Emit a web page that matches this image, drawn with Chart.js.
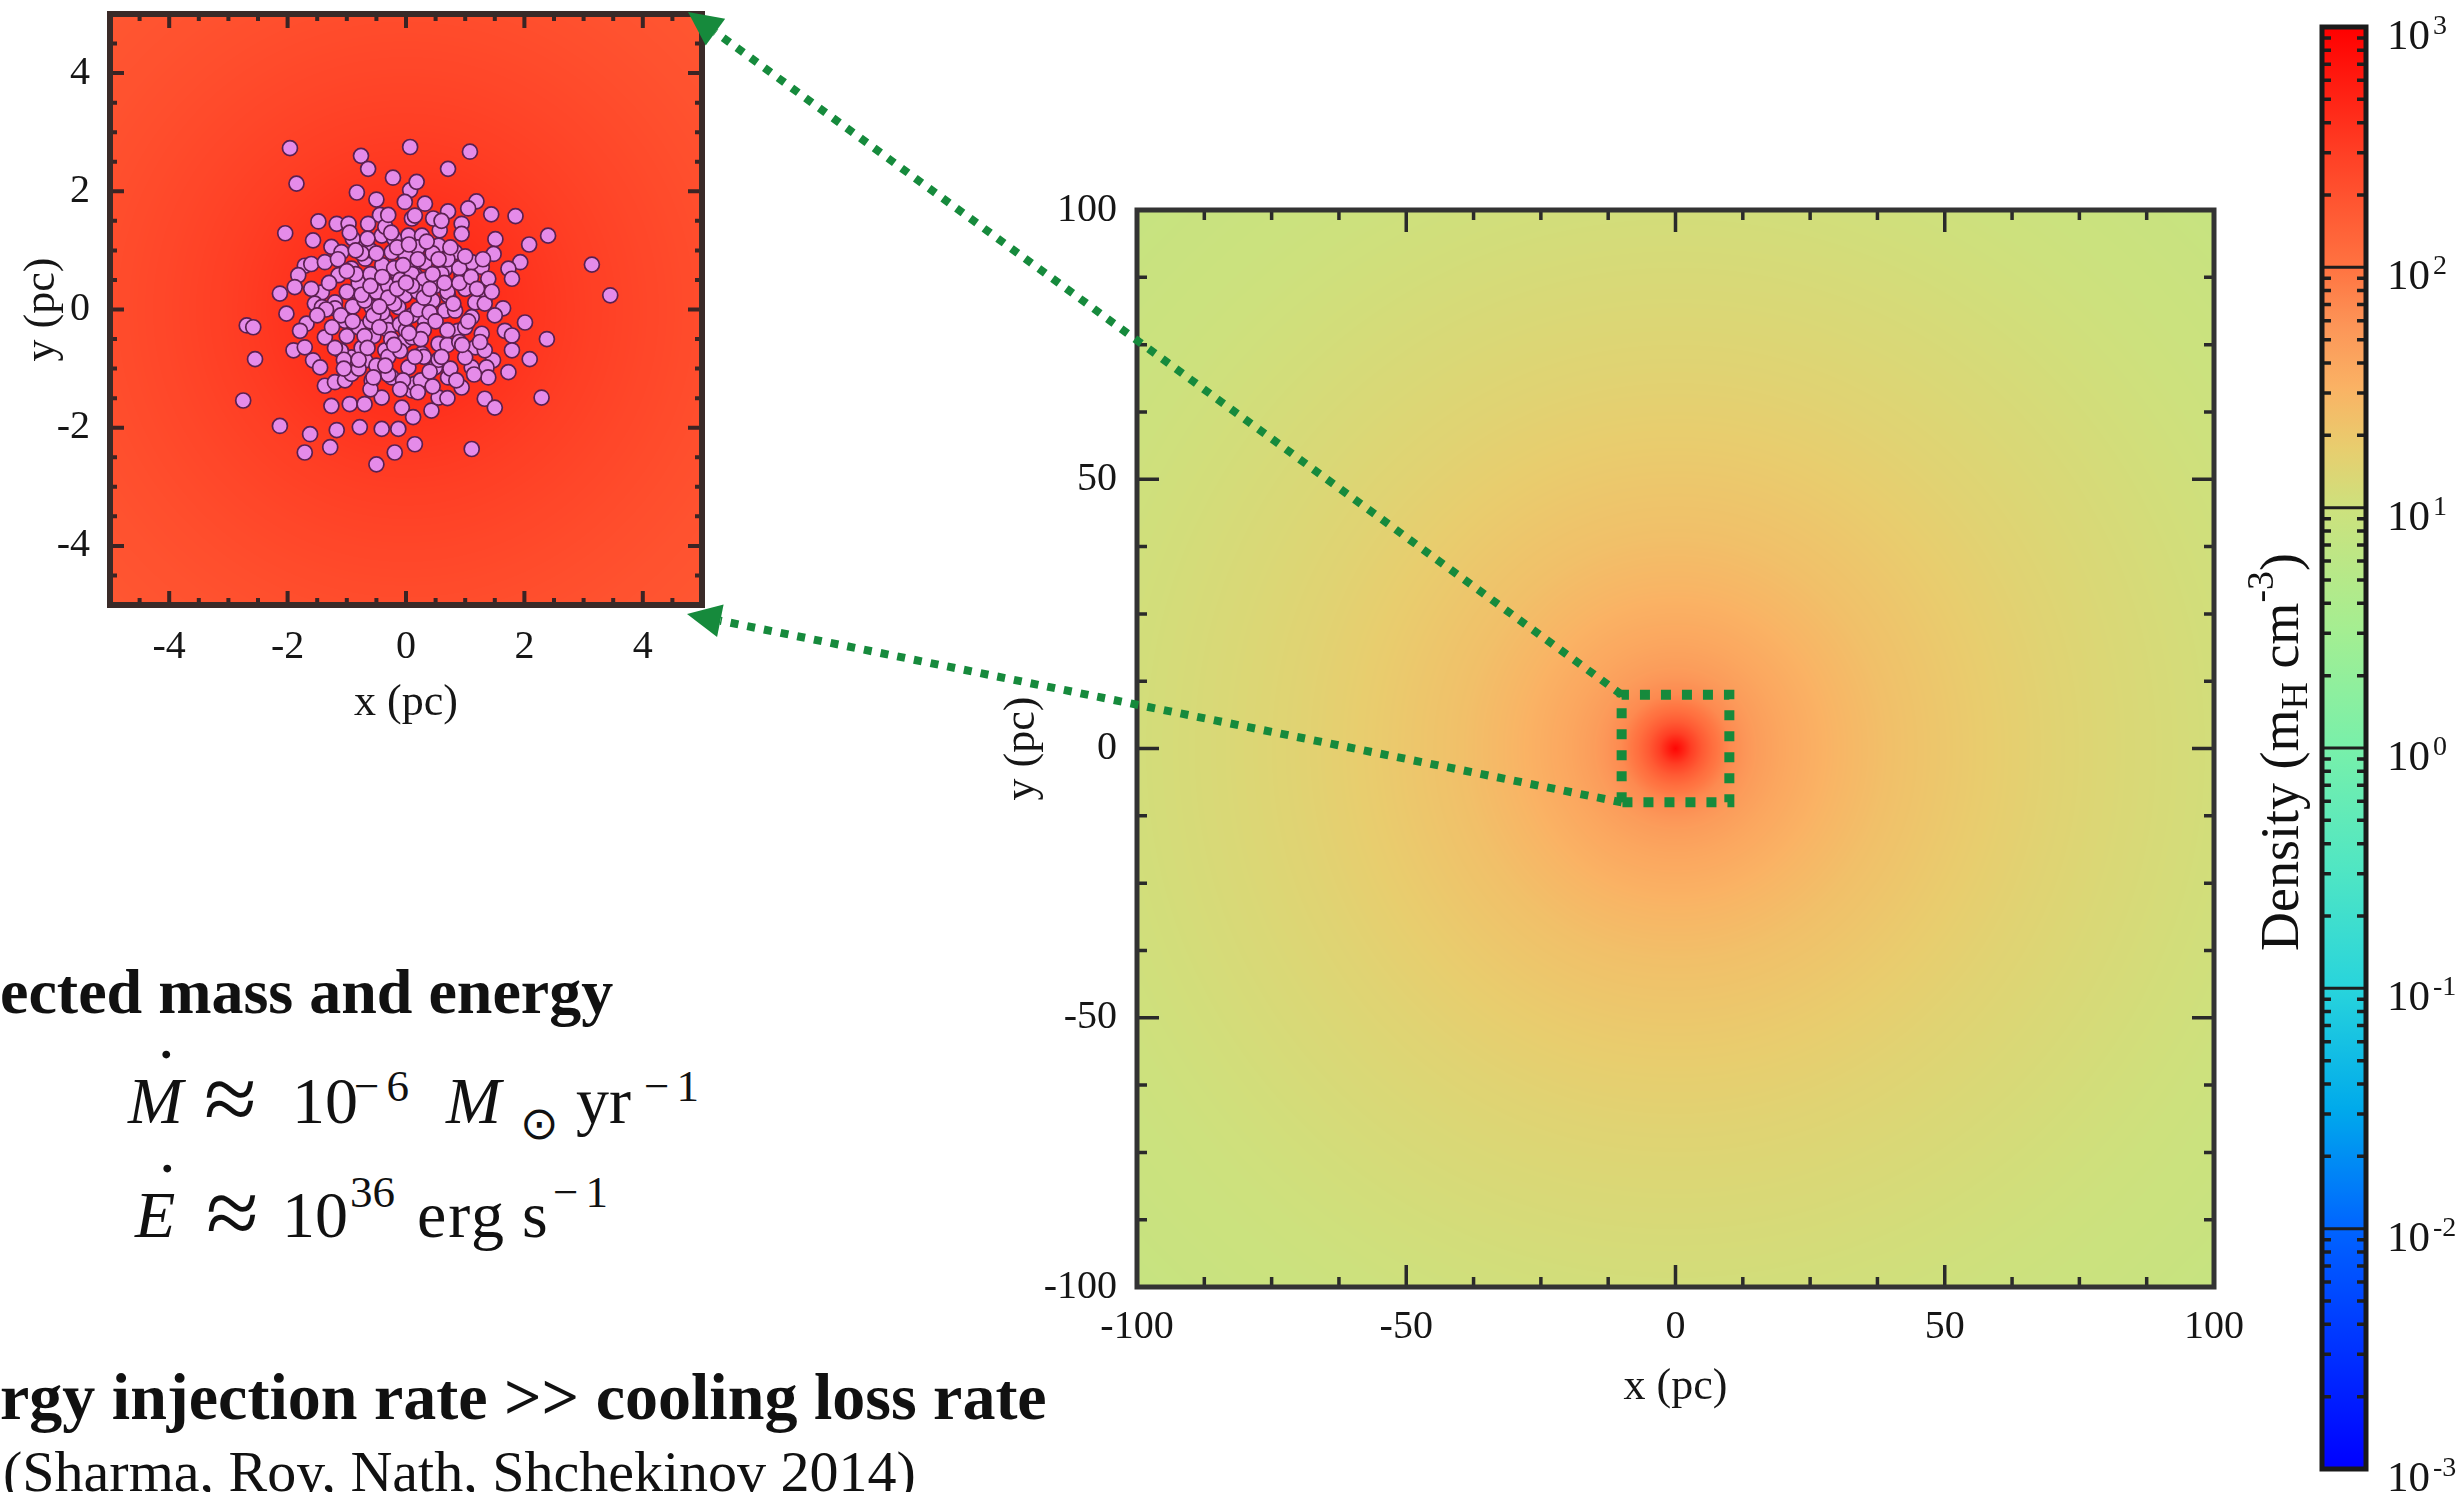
<!DOCTYPE html>
<html>
<head>
<meta charset="utf-8">
<script src="https://cdn.jsdelivr.net/npm/chart.js@4.4.1/dist/chart.umd.min.js"></script>
<style>
html,body{margin:0;padding:0;background:#fff;width:2463px;height:1492px;overflow:hidden;}
#page{position:relative;width:2463px;height:1492px;overflow:hidden;font-family:"Liberation Serif","Times New Roman",serif;color:#111;}
canvas.c{position:absolute;}
.t{position:absolute;white-space:nowrap;line-height:1;}
.b{font-weight:bold;}
.i{font-style:italic;}
.m{font-size:66px;line-height:66px;}
.s{font-size:45px;line-height:45px;}
.ap{font-size:96px;line-height:96px;}
</style>
</head>
<body>
<div id="page">
  <canvas id="inset" class="c" width="760" height="770" style="left:0px;top:-30px;width:760px;height:770px;"></canvas>
  <canvas id="main" class="c" width="1340" height="1320" style="left:940px;top:160px;width:1340px;height:1320px;"></canvas>
  <canvas id="cbar" class="c" width="213" height="1492" style="left:2250px;top:0px;width:213px;height:1492px;"></canvas>

  <div class="t b" style="left:0px;top:960px;font-size:64px;line-height:64px;">ected mass and energy</div>
  <div class="t b" style="left:0px;top:1364px;font-size:66px;line-height:66px;">rgy injection rate &gt;&gt; cooling loss rate</div>
  <div class="t" style="left:3px;top:1443px;font-size:58px;line-height:58px;">(Sharma, Roy, Nath, Shchekinov 2014)</div>

  <!-- equation 1 (baseline 1123) -->
  <div class="t m" style="left:158px;top:1003px;">.</div>
  <div class="t m i" style="left:128px;top:1068px;">M</div>
  <div class="t ap" style="left:204px;top:1051px;">≈</div>
  <div class="t m" style="left:292px;top:1068px;">10</div>
  <div class="t s" style="left:354px;top:1064px;letter-spacing:7px;">−6</div>
  <div class="t m i" style="left:446px;top:1068px;">M</div>
  <div class="t" style="left:520px;top:1100px;font-family:'DejaVu Sans',sans-serif;font-size:46px;line-height:46px;">⊙</div>
  <div class="t m" style="left:576px;top:1068px;">yr</div>
  <div class="t s" style="left:644px;top:1064px;letter-spacing:7px;">−1</div>

  <!-- equation 2 (baseline 1237) -->
  <div class="t m" style="left:159px;top:1117px;">.</div>
  <div class="t m i" style="left:135px;top:1182px;">E</div>
  <div class="t ap" style="left:206px;top:1165px;">≈</div>
  <div class="t m" style="left:282px;top:1182px;">10</div>
  <div class="t s" style="left:350px;top:1170px;">36</div>
  <div class="t m" style="left:417px;top:1182px;letter-spacing:2px;">erg</div>
  <div class="t m" style="left:522px;top:1182px;">s</div>
  <div class="t s" style="left:553px;top:1170px;letter-spacing:7px;">−1</div>

  <!-- colorbar title -->
  <div class="t" style="left:2278px;top:752px;font-size:54px;transform:translate(-50%,-50%) rotate(-90deg);">Density (m<span style="font-size:0.7em;vertical-align:-0.25em;">H</span> cm<span style="font-size:0.7em;vertical-align:0.65em;">-3</span>)</div>

  <canvas id="overlay" class="c" width="2463" height="1492" style="left:0;top:0;width:2463px;height:1492px;z-index:10;pointer-events:none;"></canvas>
</div>

<script>
// ---------------- DATA ----------------
// Inset: positions (pc) of the injection sources
const insetX = [
 -1.96,-0.76,-0.64,0.07,-1.85,-0.22,-0.83,-0.50,-0.44,-1.48,-1.17,-0.97,-2.04,-1.57,-0.64,0.07,0.18,-0.02,-2.13,-2.02,
 -1.71,-1.60,-1.82,-1.88,-1.26,-1.09,-1.37,-0.81,-1.42,-1.14,-0.92,-1.20,-1.54,-0.69,-0.41,-0.24,0.04,-0.52,-0.13,-0.81,
 -0.35,-0.02,0.10,0.18,
 1.08,0.71,1.19,1.05,0.71,1.44,1.85,0.94,0.94,0.57,0.46,0.32,2.40,1.51,2.08,1.48,1.93,3.14,3.45,1.28,
 1.73,1.79,1.39,1.33,1.64,0.15,0.27,0.55,0.83,1.11,0.94,0.66,0.32,0.43,1.00,0.71,1.17,0.32,0.15,
 -2.69,-2.58,-2.55,-2.75,-2.13,-1.62,-1.71,-1.28,-1.17,-0.78,-0.50,-0.19,-0.41,-0.13,0.15,-1.68,-1.79,-1.90,-1.71,-1.57,
 -1.45,-1.37,-1.20,-1.03,-1.26,-0.95,-0.41,-0.07,0.12,-1.37,-0.92,-0.69,-0.92,-0.58,-0.24,-0.35,-1.03,-0.69,-0.35,-0.02,
 0.04,-1.20,-0.58,-0.13,0.10,-1.42,
 2.01,2.38,1.67,1.79,1.79,2.09,1.73,1.47,1.36,1.39,1.28,2.29,1.33,1.50,1.11,0.94,0.43,0.55,0.71,1.11,
 1.17,1.00,1.33,0.88,1.11,1.33,0.55,0.27,0.15,0.32,0.66,0.10,0.83,0.49,
 -1.00,-0.80,-0.60,-0.40,-0.20,0.00,0.20,0.45,0.70,0.90,-1.10,-0.90,-0.70,-0.50,-0.30,-0.10,0.10,0.30,0.50,0.70,
 -1.00,-0.80,-0.60,-0.40,-0.20,0.20,0.45,1.00,-0.75,-0.55,-0.30,-0.10,0.10,0.30,0.70,0.90,-0.50,-0.30,-0.10,0.30,
 0.55,0.75,-0.60,-0.30,-0.05,0.25,0.45,-0.80,-1.10,-0.20,-0.60,-0.90,-0.35,-0.15,0.20,0.00,-0.55,0.40,-0.25,0.60,
 -0.75,-1.05,
 -1.30,-1.25,-1.15,-1.05,-0.95,-0.90,-0.85,-0.80,-0.75,-0.70,-0.65,-0.60,-0.55,-0.50,-0.45,-0.40,-0.35,-0.30,-0.25,-0.20,
 -0.15,-0.10,-0.05,0.00,0.05,0.10,0.15,0.20,0.25,0.30,0.35,0.40,0.45,0.50,0.55,0.60,0.65,0.70,0.75,0.80,
 0.85,0.90,0.95,1.00,1.05,1.10,1.15,1.20,1.25,1.30,-1.35,-1.20,-1.00,-0.85,-0.65,0.05,0.00,-0.45,0.40,0.20,
 -0.30,0.60,-0.70,0.70,1.50,-1.50,1.45,-1.60
];
const insetY = [
 2.73,2.60,2.38,2.75,2.13,2.23,1.98,1.86,1.60,1.49,1.45,1.45,1.29,1.17,1.45,2.02,2.16,1.82,0.27,-0.07,
 0.74,0.77,0.58,0.38,1.06,0.97,0.80,1.08,0.29,0.58,0.69,0.12,0.10,0.86,1.25,0.97,1.25,0.52,0.58,0.29,
 0.18,0.24,1.54,0.80,
 2.67,2.38,1.83,1.71,1.66,1.61,1.58,1.45,1.28,1.34,1.54,1.79,1.25,1.19,1.10,0.94,0.80,0.76,0.24,0.72,
 0.69,0.52,0.52,0.18,0.02,1.59,1.25,1.08,0.97,0.80,0.58,0.69,0.80,0.46,0.35,0.24,0.12,0.12,0.58,
 -0.27,-0.30,-0.84,-1.54,-1.97,-2.11,-2.42,-2.33,-2.04,-1.99,-2.62,-2.42,-2.02,-2.02,-2.28,-0.24,-0.36,-0.69,-0.64,-0.86,
 -0.98,-1.29,-1.23,-1.20,-1.63,-1.60,-1.49,-1.66,-1.82,-0.47,-0.81,-0.86,-1.09,-1.20,-1.15,-0.69,-0.19,-0.30,-0.19,-0.53,
 -0.98,0.02,0.04,0.04,-1.37,0.04,
 -0.22,-0.50,-0.36,-0.44,-0.69,-0.84,-1.06,-0.86,-0.98,-1.15,-0.41,-1.49,-1.51,-1.66,-2.36,-1.32,-1.71,-1.49,-1.15,-0.98,
 -0.64,-0.81,-0.69,-0.36,-0.13,0.10,-0.58,-0.75,-1.26,-0.19,-0.02,-0.47,-0.02,-0.98,
 0.30,0.45,0.60,0.75,0.70,0.90,1.05,0.95,0.85,0.70,-0.10,0.05,0.15,0.30,0.40,0.50,0.60,0.50,0.40,0.30,
 -0.45,-0.30,-0.20,-0.05,0.10,0.30,0.15,-0.30,-0.65,-0.45,-0.35,-0.25,-0.10,-0.35,-0.60,-0.55,-0.95,-0.80,-0.70,-0.80,
 -0.85,-1.00,-1.35,-1.10,-1.20,-1.20,-1.30,-1.00,-0.70,1.20,1.00,1.20,1.40,1.05,0.00,-0.35,-0.10,-0.05,-0.50,0.60,
 0.95,-0.85,
 0.45,-0.30,0.85,-1.00,1.30,-0.20,0.60,-0.85,0.25,-0.45,1.20,0.40,-1.15,0.95,-0.30,0.55,-0.95,0.20,1.30,-0.60,
 0.35,-1.35,0.75,-0.15,1.10,0.40,-0.80,0.85,-0.50,0.20,1.15,-1.05,0.60,-0.20,0.85,-0.80,0.45,-0.35,1.05,0.10,
 -1.20,0.45,-0.60,0.90,-0.20,0.55,-1.10,0.35,-0.55,0.85,0.00,-0.65,0.65,1.00,-0.65,-0.40,0.45,0.05,0.35,-1.40,
 1.60,1.50,-1.60,-1.50,-0.10,-0.10,0.30,0.35
];

// Radial density profiles, log10(n / m_H cm^-3) vs radius (pc)
const insetR    = [0, 1, 2, 3, 4, 5, 6, 7.1];
const insetLogN = [2.74, 2.67, 2.57, 2.48, 2.41, 2.35, 2.30, 2.26];
const mainR     = [0, 1.5, 3, 5, 7, 10, 15, 20, 30, 40, 55, 70, 85, 100, 120, 142];
const mainLogN  = [2.95, 2.72, 2.47, 2.22, 2.03, 1.84, 1.69, 1.60, 1.47, 1.37, 1.27, 1.18, 1.11, 1.05, 0.98, 0.92];

// Axes
const insetTicks = [-4, -2, 0, 2, 4];
const insetMinor = [-4.5, -3.5, -3, -2.5, -1.5, -1, -0.5, 0.5, 1, 1.5, 2.5, 3, 3.5, 4.5];
const mainTicks  = [-100, -50, 0, 50, 100];
const mainMinor  = [-87.5, -75, -62.5, -37.5, -25, -12.5, 12.5, 25, 37.5, 62.5, 75, 87.5];
const cbarDecades = [-3, -2, -1, 0, 1, 2, 3];

// Zoom box (pc) in the main map and where it links to in the inset
const zoomBoxX = [-10, -10, 10, 10, -10];
const zoomBoxY = [-10, 10, 10, -10, -10];
const linkFromMain = [[-10, 10], [-10, -10]];
const linkToInset  = [[5, 5], [5, -5]];

// Colour map: log10 density -> RGB
const cmapLog = [-3, -2, -1.5, -1, -0.5, 0, 0.5, 1, 1.25, 1.5, 1.75, 2, 2.5, 3];
const cmapRGB = [[0,0,255],[0,100,255],[0,170,235],[40,212,220],[80,230,195],[120,240,170],[165,238,145],
                 [205,225,125],[232,205,110],[250,178,100],[252,150,88],[255,115,65],[255,60,35],[255,0,0]];

// ---------------- STYLE ----------------
const SERIF = "'Liberation Serif', 'Times New Roman', serif";
const GREEN = '#168a3c';
const TXT = '#161616';

// ---------------- HELPERS ----------------
function interp(xs, ys, v) {
  if (v <= xs[0]) return ys[0];
  for (let i = 1; i < xs.length; i++) {
    if (v <= xs[i]) { const t = (v - xs[i-1]) / (xs[i] - xs[i-1]); return ys[i-1] + t * (ys[i] - ys[i-1]); }
  }
  return ys[ys.length - 1];
}
function cmapColor(l) {
  return [0,1,2].map(k => Math.round(interp(cmapLog, cmapRGB.map(c => c[k]), l)));
}
const LUT_N = 1500;
const LUT = new Uint8ClampedArray(LUT_N * 3);
for (let k = 0; k < LUT_N; k++) {
  const c = cmapColor(-3 + 6 * k / (LUT_N - 1));
  LUT[k*3] = c[0]; LUT[k*3+1] = c[1]; LUT[k*3+2] = c[2];
}

function heatPlugin(rArr, lArr) {
  let cache = null;
  return {
    id: 'heat',
    beforeDatasetsDraw(chart) {
      const {ctx, chartArea: a, scales: {x, y}} = chart;
      const L = Math.floor(a.left), T = Math.floor(a.top);
      const W = Math.ceil(a.right) - L, H = Math.ceil(a.bottom) - T;
      if (!cache) {
        cache = document.createElement('canvas'); cache.width = W; cache.height = H;
        const c = cache.getContext('2d'); const img = c.createImageData(W, H); const d = img.data;
        const xv = new Float64Array(W);
        for (let i = 0; i < W; i++) xv[i] = x.getValueForPixel(L + i + 0.5);
        for (let j = 0; j < H; j++) {
          const yv = y.getValueForPixel(T + j + 0.5);
          for (let i = 0; i < W; i++) {
            const r = Math.sqrt(xv[i]*xv[i] + yv*yv);
            const l = interp(rArr, lArr, r);
            const idx = Math.max(0, Math.min(LUT_N-1, Math.round((l + 3) / 6 * (LUT_N - 1)))) * 3;
            const k = (j * W + i) * 4;
            d[k] = LUT[idx]; d[k+1] = LUT[idx+1]; d[k+2] = LUT[idx+2]; d[k+3] = 255;
          }
        }
        c.putImageData(img, 0, 0);
      }
      ctx.drawImage(cache, L, T);
    }
  };
}

function frameTicksPlugin(cfg) {
  return {
    id: 'frameTicks',
    afterDatasetsDraw(chart) {
      const {ctx, chartArea: a, scales: {x, y}} = chart;
      ctx.save();
      ctx.strokeStyle = cfg.tickColor; ctx.lineWidth = cfg.tickWidth; ctx.lineCap = 'butt';
      ctx.beginPath();
      const draw = (vals, len) => vals.forEach(v => {
        const px = x.getPixelForValue(v), py = y.getPixelForValue(v);
        ctx.moveTo(px, a.bottom); ctx.lineTo(px, a.bottom - len);
        ctx.moveTo(px, a.top);    ctx.lineTo(px, a.top + len);
        ctx.moveTo(a.left, py);   ctx.lineTo(a.left + len, py);
        ctx.moveTo(a.right, py);  ctx.lineTo(a.right - len, py);
      });
      draw(cfg.major, cfg.majorLen); draw(cfg.minor, cfg.minorLen);
      ctx.stroke();
      ctx.lineWidth = cfg.frameWidth; ctx.strokeStyle = cfg.frameColor;
      ctx.strokeRect(a.left, a.top, a.right - a.left, a.bottom - a.top);
      ctx.restore();
    }
  };
}

function axisCfg(ticksArr, min, max, isX, size, tickPad, titleText, titlePad) {
  return {
    type: 'linear', min, max, position: isX ? 'bottom' : 'left',
    grid: {display: false, drawTicks: false}, border: {display: false},
    afterBuildTicks: s => { s.ticks = ticksArr.map(v => ({value: v})); },
    afterFit: s => { if (isX) s.height = size; else s.width = size; },
    ticks: {padding: tickPad, color: TXT, font: {family: SERIF, size: 40}, maxRotation: 0, autoSkip: false,
            callback: v => String(v)},
    title: {display: true, text: titleText, color: TXT, font: {family: SERIF, size: 44, lineHeight: 1.2}, padding: titlePad}
  };
}

// ---------------- INSET ----------------
const insetChart = new Chart(document.getElementById('inset'), {
  type: 'scatter',
  data: {datasets: [{
    data: insetX.map((x, i) => ({x, y: insetY[i]})),
    pointRadius: 7.5, pointBackgroundColor: '#e58be9', pointBorderColor: '#5a2050', pointBorderWidth: 1.7
  }]},
  options: {
    responsive: false, animation: false, devicePixelRatio: 1,
    layout: {padding: {left: 0, top: 44, right: 58, bottom: 0}},
    plugins: {legend: {display: false}, tooltip: {enabled: false}},
    scales: {
      x: axisCfg(insetTicks, -5, 5, true, 135, 18, 'x (pc)', {top: 0, bottom: 10}),
      y: axisCfg(insetTicks, -5, 5, false, 110, 20, 'y (pc)', {top: 16, bottom: 0})
    }
  },
  plugins: [heatPlugin(insetR, insetLogN), frameTicksPlugin({
    major: insetTicks, minor: insetMinor, majorLen: 14, minorLen: 7, tickWidth: 4,
    tickColor: '#3a2424', frameWidth: 6, frameColor: '#3a2a28'})]
});

// ---------------- MAIN MAP ----------------
const mainChart = new Chart(document.getElementById('main'), {
  type: 'scatter',
  data: {datasets: [{
    data: zoomBoxX.map((x, i) => ({x, y: zoomBoxY[i]})),
    showLine: true, borderColor: GREEN, borderWidth: 10, borderDash: [10, 11], borderCapStyle: 'butt',
    pointRadius: 0, fill: false, tension: 0
  }]},
  options: {
    responsive: false, animation: false, devicePixelRatio: 1,
    layout: {padding: {left: 0, top: 50, right: 66, bottom: 0}},
    plugins: {legend: {display: false}, tooltip: {enabled: false}},
    scales: {
      x: axisCfg(mainTicks, -100, 100, true, 193, 16, 'x (pc)', {top: 0, bottom: 66}),
      y: axisCfg(mainTicks, -100, 100, false, 197, 20, 'y (pc)', {top: 56, bottom: 0})
    }
  },
  plugins: [heatPlugin(mainR, mainLogN), frameTicksPlugin({
    major: mainTicks, minor: mainMinor, majorLen: 22, minorLen: 10, tickWidth: 3.5,
    tickColor: '#2a2a2a', frameWidth: 5, frameColor: '#333333'})]
});

// ---------------- COLOUR BAR ----------------
const cbarMin = 1e-3, cbarMax = 1e3;
function cbarGradient(chart) {
  const {ctx, chartArea, scales} = chart;
  if (!chartArea || !scales.y) return '#888';
  const y = scales.y;
  const y0 = y.getPixelForValue(cbarMin), y1 = y.getPixelForValue(cbarMax);
  const g = ctx.createLinearGradient(0, y0, 0, y1);
  cmapLog.forEach((l, i) => {
    const p = (y.getPixelForValue(Math.pow(10, l)) - y0) / (y1 - y0);
    g.addColorStop(Math.max(0, Math.min(1, p)), 'rgb(' + cmapRGB[i].join(',') + ')');
  });
  return g;
}
const cbarPlugin = {
  id: 'cbarDeco',
  afterDatasetsDraw(chart) {
    const {ctx, chartArea: a, scales: {y}} = chart;
    ctx.save();
    ctx.strokeStyle = '#1e1e1e'; ctx.lineWidth = 3.5; ctx.lineCap = 'butt';
    ctx.beginPath();
    for (let d = cbarDecades[0]; d < cbarDecades[cbarDecades.length - 1]; d++) {
      for (let m = 2; m <= 9; m++) {
        const py = y.getPixelForValue(m * Math.pow(10, d));
        ctx.moveTo(a.left, py); ctx.lineTo(a.left + 9, py);
        ctx.moveTo(a.right, py); ctx.lineTo(a.right - 9, py);
      }
    }
    ctx.stroke();
    ctx.lineWidth = 3;
    ctx.beginPath();
    cbarDecades.forEach(d => {
      const py = y.getPixelForValue(Math.pow(10, d));
      ctx.moveTo(a.left, py); ctx.lineTo(a.right, py);
    });
    ctx.stroke();
    ctx.lineWidth = 5; ctx.strokeStyle = '#1a1a1a';
    ctx.strokeRect(a.left, a.top, a.right - a.left, a.bottom - a.top);
    ctx.fillStyle = TXT; ctx.textBaseline = 'alphabetic'; ctx.textAlign = 'left';
    cbarDecades.forEach(d => {
      const py = y.getPixelForValue(Math.pow(10, d));
      const x0 = a.right + 21;
      ctx.font = '43px ' + SERIF;
      ctx.fillText('10', x0, py + 22);
      const w = ctx.measureText('10').width;
      ctx.font = '28px ' + SERIF;
      ctx.fillText(String(d), x0 + w + 3, py + 7);
    });
    ctx.restore();
  }
};
const cbarChart = new Chart(document.getElementById('cbar'), {
  type: 'bar',
  data: {labels: [''], datasets: [{
    data: [[cbarMin, cbarMax]], backgroundColor: c => cbarGradient(c.chart), borderWidth: 0,
    barPercentage: 1, categoryPercentage: 1
  }]},
  options: {
    responsive: false, animation: false, devicePixelRatio: 1,
    layout: {padding: {left: 72, top: 27, right: 0, bottom: 23}},
    plugins: {legend: {display: false}, tooltip: {enabled: false}},
    scales: {
      x: {display: false},
      y: {type: 'logarithmic', min: cbarMin, max: cbarMax, position: 'right',
          grid: {display: false, drawTicks: false}, border: {display: false},
          ticks: {display: false}, afterFit: s => { s.width = 97; }}
    }
  },
  plugins: [cbarPlugin]
});

// ---------------- LINKS (main zoom box -> inset) ----------------
function drawLinks() {
  const ov = document.getElementById('overlay');
  const c = ov.getContext('2d');
  c.clearRect(0, 0, ov.width, ov.height);
  const mEl = document.getElementById('main'), iEl = document.getElementById('inset');
  const tipOffsets = [[-14, -2], [-15, 9]];
  const arrowLen = 34, arrowHalf = 16.5;
  linkFromMain.forEach((p, k) => {
    const sx = mEl.offsetLeft + mainChart.scales.x.getPixelForValue(p[0]);
    const sy = mEl.offsetTop + mainChart.scales.y.getPixelForValue(p[1]);
    const q = linkToInset[k];
    const tx = iEl.offsetLeft + insetChart.scales.x.getPixelForValue(q[0]) + tipOffsets[k][0];
    const ty = iEl.offsetTop + insetChart.scales.y.getPixelForValue(q[1]) + tipOffsets[k][1];
    const dx = sx - tx, dy = sy - ty, len = Math.hypot(dx, dy);
    const ux = dx / len, uy = dy / len;
    const bx = tx + ux * arrowLen, by = ty + uy * arrowLen;
    c.save();
    c.strokeStyle = GREEN; c.lineWidth = 8; c.lineCap = 'butt';
    c.setLineDash([8, 9]);
    c.beginPath(); c.moveTo(sx, sy); c.lineTo(bx, by); c.stroke();
    c.setLineDash([]);
    c.fillStyle = GREEN;
    c.beginPath();
    c.moveTo(tx, ty);
    c.lineTo(bx - uy * arrowHalf, by + ux * arrowHalf);
    c.lineTo(bx + uy * arrowHalf, by - ux * arrowHalf);
    c.closePath(); c.fill();
    c.restore();
  });
}
drawLinks();
</script>
</body>
</html>
